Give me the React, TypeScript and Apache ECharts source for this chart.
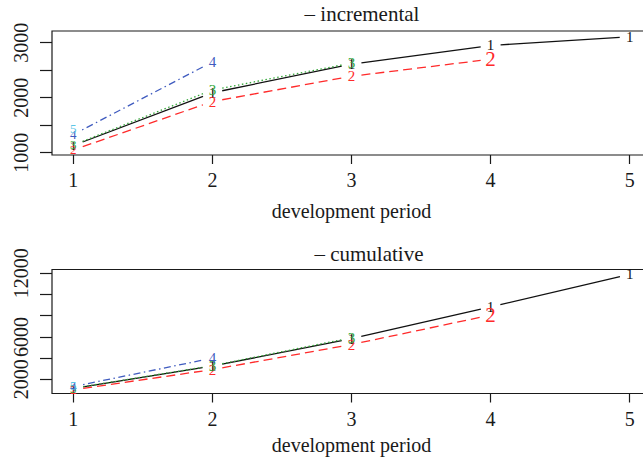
import React, { useEffect, useRef } from "react";
import * as echarts from "echarts";

const periods = [1, 2, 3, 4, 5];
const rowNames = ["1", "2", "3", "4", "5"];

// incremental triangle
const inc1 = [1130, 2090, 2610, 2950, 3110];
const inc2 = [1050, 1930, 2390, 2700];
const inc3 = [1140, 2140, 2630];
const inc4 = [1330, 2650];
const inc5 = [1440];

// cumulative triangle
const cum1 = [1150, 3250, 5830, 8820, 11900];
const cum2 = [1020, 2920, 5280, 8050];
const cum3 = [1160, 3290, 5920];
const cum4 = [1320, 4000];
const cum5 = [1440];

const incTicks = [1000, 1500, 2000, 2500, 3000];
const incLabels = [1000, 2000, 3000];
const cumTicks = [2000, 4000, 6000, 8000, 10000, 12000];
const cumLabels = [2000, 6000, 12000];

const FONT = '"Liberation Serif", "DejaVu Serif", serif';
const colors = ["#111111", "#ff2a2a", "#35a83a", "#3f5bbf", "#5cc6e6"];
const dashes: (number[] | null)[] = [null, [9, 5], [1.5, 2.5], [1.5, 3.5, 7, 3.5], [12, 4]];

function makeSeries(rows: number[][], gridIdx: number) {
  return rows.map((vals, r) => ({
    type: "custom",
    xAxisIndex: gridIdx,
    yAxisIndex: gridIdx,
    clip: false,
    data: vals.map((v, i) => [periods[i], v]),
    renderItem: (params: any, api: any) => {
      const i = params.dataIndex;
      const p = api.coord([api.value(0), api.value(1)]);
      const children: any[] = [];
      const gap = 10;
      if (i < vals.length - 1) {
        const q = api.coord([periods[i + 1], vals[i + 1]]);
        const dx = q[0] - p[0];
        const dy = q[1] - p[1];
        const len = Math.hypot(dx, dy);
        const ux = dx / len;
        const uy = dy / len;
        children.push({
          type: "line",
          shape: {
            x1: p[0] + ux * gap,
            y1: p[1] + uy * gap,
            x2: q[0] - ux * gap,
            y2: q[1] - uy * gap,
          },
          style: {
            stroke: colors[r],
            lineWidth: 1.3,
            lineDash: dashes[r] || undefined,
          },
        });
      }
      let size = 15;
      if (i === 0) size = 13;
      if (r === 1 && i === 3) size = 21;
      children.push({
        type: "text",
        style: {
          text: rowNames[r],
          x: p[0],
          y: p[1],
          fill: colors[r],
          fontSize: size,
          fontFamily: FONT,
          align: "center",
          verticalAlign: "middle",
        },
      });
      return { type: "group", children };
    },
  }));
}

export default function App() {
  const ref = useRef<HTMLDivElement>(null);
  useEffect(() => {
    if (!ref.current) return;
    const chart = echarts.init(ref.current, null, { renderer: "svg" });
    const gridBase = {
      left: 52,
      width: 599,
      height: 124,
      show: true,
      borderColor: "#1a1a1a",
      borderWidth: 1.2,
      backgroundColor: "transparent",
      containLabel: false,
      outerBoundsMode: "none",
    };
    const xAxisBase = (gridIndex: number, nameGap: number) => ({
      type: "value",
      gridIndex,
      min: 0.847,
      max: 5.153,
      name: "development period",
      nameLocation: "middle",
      nameGap,
      nameTextStyle: { fontFamily: FONT, fontSize: 20, color: "#1a1a1a", verticalAlign: "top" },
      splitLine: { show: false },
      axisLine: { show: false },
      axisTick: {
        show: true,
        length: 9,
        customValues: periods,
        lineStyle: { color: "#1a1a1a", width: 1.2 },
      },
      axisLabel: {
        customValues: periods,
        fontFamily: FONT,
        fontSize: 20,
        color: "#1a1a1a",
        margin: 15,
        formatter: (v: number) => String(v),
      },
    });
    const yAxisBase = (gridIndex: number, min: number, max: number, ticks: number[], labels: number[]) => ({
      type: "value",
      gridIndex,
      min,
      max,
      splitLine: { show: false },
      axisLine: { show: false },
      axisTick: {
        show: true,
        length: 12,
        customValues: ticks,
        lineStyle: { color: "#1a1a1a", width: 1.2 },
      },
      axisLabel: {
        customValues: labels,
        rotate: 90,
        fontFamily: FONT,
        fontSize: 20,
        color: "#1a1a1a",
        margin: 21,
        hideOverlap: false,
        showMinLabel: true,
        showMaxLabel: true,
        formatter: (v: number) => String(v),
      },
    });
    const option: any = {
      animation: false,
      textStyle: { fontFamily: FONT },
      grid: [
        { ...gridBase, top: 31 },
        { ...gridBase, top: 269.5 },
      ],
      xAxis: [xAxisBase(0, 46), xAxisBase(1, 41)],
      yAxis: [
        yAxisBase(0, 958, 3213, incTicks, incLabels),
        yAxisBase(1, 669, 12347, cumTicks, cumLabels),
      ],
      graphic: [
        {
          type: "text",
          x: 362,
          y: 14,
          style: {
            text: "– incremental",
            fontFamily: FONT,
            fontSize: 21,
            fill: "#1a1a1a",
            align: "center",
            verticalAlign: "middle",
          },
        },
        {
          type: "text",
          x: 369,
          y: 254,
          style: {
            text: "– cumulative",
            fontFamily: FONT,
            fontSize: 21,
            fill: "#1a1a1a",
            align: "center",
            verticalAlign: "middle",
          },
        },
      ],
      series: [
        ...makeSeries([inc1, inc2, inc3, inc4, inc5], 0),
        ...makeSeries([cum1, cum2, cum3, cum4, cum5], 1),
      ],
    };
    chart.setOption(option);
    return () => chart.dispose();
  }, []);
  return (
    <div
      ref={ref}
      style={{ position: "absolute", left: 0, top: 0, width: 643, height: 457, background: "#fff" }}
    />
  );
}
